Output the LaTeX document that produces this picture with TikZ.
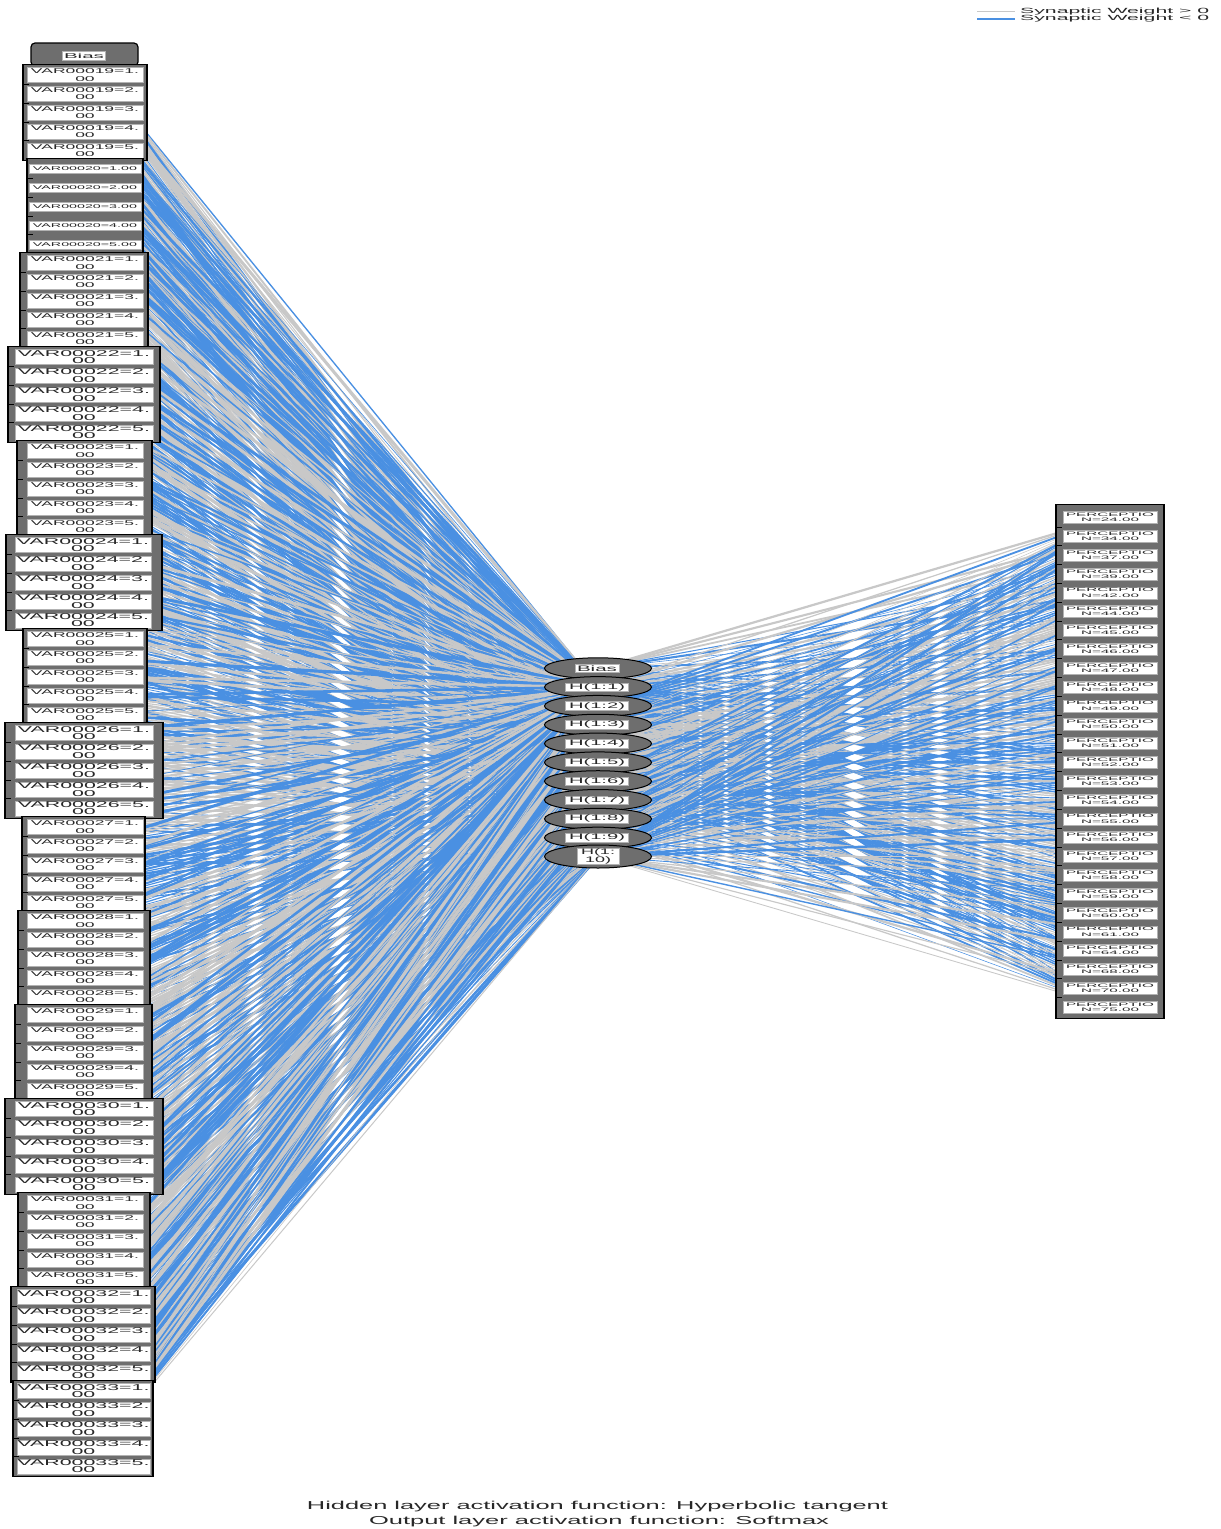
\documentclass[tikz,border=0pt]{standalone}
\usepackage{fontspec}
\setmainfont{Liberation Sans}
\usepackage{graphicx}
\usetikzlibrary{shapes.geometric}
\pgfdeclarelayer{paper}
\pgfdeclarelayer{background}
\pgfsetlayers{paper,background,main}

\definecolor{poswt}{RGB}{200,200,200}
\definecolor{negwt}{RGB}{74,144,226}
\definecolor{unitgray}{RGB}{110,110,110}
\definecolor{labink}{RGB}{40,40,40}

% two centred lines with a fixed baseline distance
\newcommand\stacklines[3]{\vbox{\lineskiplimit=-20pt\lineskip=0pt\baselineskip=#1\halign{\hfil##\hfil\cr#2\cr#3\cr}}}
% stretch a box horizontally to a given width
\newcommand\stretchto[2]{\resizebox{#1}{\height}{#2}}
% label of an input unit: kind 0 = one line, 1 = narrow, 2 = wide
\newcommand\inlabel[3]{%
  \ifcase#1\relax
    \fontsize{5.5}{5.5}\selectfont\stretchto{104pt}{VAR000#2=#3.00}%
  \or
    \fontsize{7}{7}\selectfont\stretchto{108pt}{\stacklines{7.2pt}{VAR000#2=#3.}{00}}%
  \else
    \fontsize{8.5}{8.5}\selectfont\stretchto{132pt}{\stacklines{7.6pt}{VAR000#2=#3.}{00}}%
  \fi}

\begin{document}
\begin{tikzpicture}[x=1pt,y=-1pt,
  grp/.style={draw=black, line width=1.2pt, fill=unitgray},
  labbox/.style={fill=white, draw=black!30, line width=0.4pt, inner sep=0pt, text=labink},
  hid/.style={ellipse, draw=black, line width=1pt, fill=unitgray, minimum width=107pt, minimum height=21pt, inner sep=0pt},
  tick/.style={draw=black, line width=0.8pt},
  capt/.style={inner sep=0pt, text=labink}
]
\useasboundingbox (0,0) rectangle (1221,1529);
\begin{pgfonlayer}{paper}
\fill[white] (0,0) rectangle (1221,1529);
\end{pgfonlayer}

% ---------- input layer ----------
\draw[grp, rounded corners=4pt] (31,43) rectangle (138,66);
\node[labbox, minimum width=43pt, minimum height=9pt] (i0) at (84,56)
  {\fontsize{7}{7}\selectfont\stretchto{40pt}{Bias}};

\foreach \g/\gl/\gr/\bl/\br/\kind [count=\gi from 0] in {
  19/23/147/27/143/1, 20/27/143/29/141/0, 21/20/148/27/143/1,
  22/8/160/15/153/2,  23/17/152/27/143/1, 24/6/162/15/151/2,
  25/23/147/27/143/1, 26/5/163/15/153/2,  27/22/145/27/143/1,
  28/18/150/27/143/1, 29/15/152/27/143/1, 30/5/163/15/153/2,
  31/18/150/27/143/1, 32/11/155/17/150/2, 33/13/153/17/150/2}
{
  \pgfmathsetmacro\ytop{75+18.8*5*\gi-10.5}
  \pgfmathsetmacro\ybot{75+18.8*(5*\gi+4)+10.5}
  \draw[grp] (\gl,\ytop) rectangle (\gr,\ybot);
  \pgfmathsetmacro\bc{(\bl+\br)/2}
  \pgfmathsetmacro\bw{\br-\bl}
  \ifnum\kind=0 \def\bh{9pt}\else\def\bh{15pt}\fi
  \foreach \v in {1,...,5} {
    \pgfmathtruncatemacro\k{5*\gi+\v}
    \pgfmathsetmacro\yy{75+18.8*(\k-1)}
    \node[labbox, minimum width=\bw pt, minimum height=\bh] (i\k) at (\bc,\yy)
      {\inlabel{\kind}{\g}{\v}};
    \ifnum\v<5
      \pgfmathsetmacro\ys{\yy+9.4}
      \draw[tick] (\gl,\ys) -- ++(6,0);
    \fi
  }
}

% ---------- hidden layer ----------
\foreach \j in {0,...,10} {
  \pgfmathsetmacro\yy{668.3+18.82*\j}
  \ifnum\j=10
    \node[hid, minimum height=23pt] (h\j) at (598,\yy) {};
    \node[labbox, minimum width=42pt, minimum height=16pt] (hl\j) at (598,\yy)
      {\fontsize{8}{8}\selectfont\stretchto{34pt}{\stacklines{7.2pt}{H(1:}{10)}}};
  \else\ifnum\j=0
    \node[hid] (h\j) at (598,\yy) {};
    \node[labbox, minimum width=44pt, minimum height=8pt] (hl\j) at (597,\yy)
      {\fontsize{8}{8}\selectfont\stretchto{40pt}{Bias}};
  \else
    \node[hid] (h\j) at (598,\yy) {};
    \node[labbox, minimum width=63pt, minimum height=8.5pt] (hl\j) at (597,\yy)
      {\fontsize{8}{8}\selectfont\stretchto{56pt}{H(1:\j)}};
  \fi\fi
}

% ---------- output layer ----------
\draw[grp] (1056,504.5) rectangle (1164,1018.5);
\foreach \p [count=\q] in {24,34,37,39,42,44,45,46,47,48,49,50,51,52,53,54,55,56,57,58,59,60,61,64,68,70,75} {
  \pgfmathsetmacro\yy{517.5+18.83*(\q-1)}
  \node[labbox, minimum width=94pt, minimum height=12pt] (o\q) at (1110,\yy)
    {\fontsize{5}{5}\selectfont\stretchto{88pt}{\stacklines{5.2pt}{PERCEPTIO}{N=\p.00}}};
  \ifnum\q<27
    \pgfmathsetmacro\ys{\yy+9.4}
    \draw[tick] (1056,\ys) -- ++(6,0);
  \fi
}

% ---------- synaptic weights ----------
\begin{pgfonlayer}{background}
\pgfmathsetseed{2718}
\foreach \k in {0,...,75} {
  \foreach \j in {1,...,10} {
    \pgfmathsetmacro\rc{rnd}
    \pgfmathsetmacro\lw{0.6+2.6*rnd}
    \ifdim\rc pt<0.5pt\def\wc{negwt}\else\def\wc{poswt}\fi
    \draw[draw=\wc, line width=\lw pt] (i\k.center) -- (h\j.center);
  }
}
\foreach \j in {0,...,10} {
  \foreach \q in {1,...,27} {
    \pgfmathsetmacro\rc{rnd}
    \pgfmathsetmacro\lw{0.5+1.9*rnd}
    \ifdim\rc pt<0.5pt\def\wc{negwt}\else\def\wc{poswt}\fi
    \draw[draw=\wc, line width=\lw pt] (h\j.center) -- (o\q.center);
  }
}
\end{pgfonlayer}

% ---------- legend ----------
\draw[poswt, line width=1.3pt] (977,11.5) -- (1015,11.5);
\node[capt, anchor=west] (lg1) at (1020,11.5)
  {\fontsize{7.5}{7.5}\selectfont\stretchto{189pt}{Synaptic Weight > 0}};
\draw[negwt, line width=1.3pt] (977,19) -- (1015,19);
\node[capt, anchor=west] (lg2) at (1020,19)
  {\fontsize{7.5}{7.5}\selectfont\stretchto{189pt}{Synaptic Weight < 0}};

% ---------- activation functions ----------
\node[capt] (cap1) at (597.5,1507)
  {\fontsize{11.5}{11.5}\selectfont\stretchto{581pt}{Hidden layer activation function: Hyperbolic tangent}};
\node[capt] (cap2) at (599,1522)
  {\fontsize{11.5}{11.5}\selectfont\stretchto{460pt}{Output layer activation function: Softmax}};
\end{tikzpicture}
\end{document}
